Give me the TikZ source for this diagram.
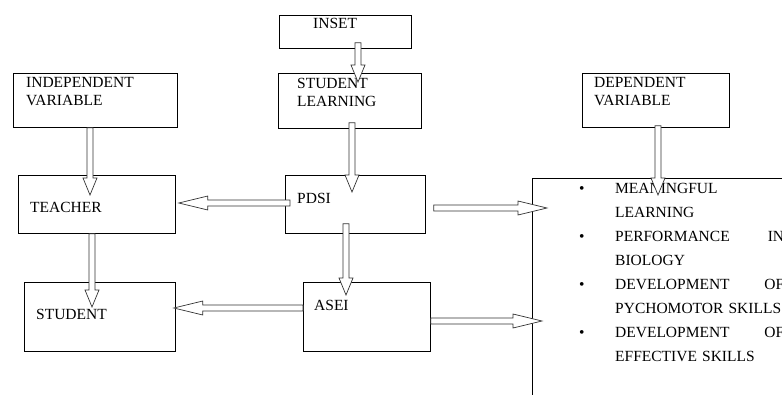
\documentclass[tikz,border=0pt]{standalone}
\usepackage{fontspec}
\setmainfont{Liberation Serif}
\usetikzlibrary{calc}
\newcommand{\listbullet}{\makebox[36pt][l]{\textbullet}}
\newcommand{\listindent}{\hspace*{36pt}}

\tikzset{
  headlen/.store in=\headlen, headlen=17pt,
  box/.style={draw, line width=0.8pt, anchor=north west, inner sep=0pt},
  lbl/.style={anchor=north west, inner sep=0pt, align=left, font=\fontsize{15.5}{18}\selectfont},
  hollow/.style={draw=black!80, fill=white, line width=0.7pt, to path={
      ($(\tikztostart)!3pt!90:(\tikztotarget)$)
      -- ($(\tikztotarget)!\headlen!(\tikztostart)!3pt!-90:(\tikztostart)$)
      -- ($(\tikztotarget)!\headlen!(\tikztostart)!7pt!-90:(\tikztostart)$)
      -- (\tikztotarget)
      -- ($(\tikztotarget)!\headlen!(\tikztostart)!7pt!90:(\tikztostart)$)
      -- ($(\tikztotarget)!\headlen!(\tikztostart)!3pt!90:(\tikztostart)$)
      -- ($(\tikztostart)!3pt!-90:(\tikztotarget)$) -- cycle}}
}

\begin{document}
\begin{tikzpicture}[x=1pt, y=-1pt]
  \useasboundingbox (0,0) rectangle (782,394);
  \clip (0,0) rectangle (782,394);

  % boxes
  \node[box, minimum width=132pt, minimum height=33pt] (inset) at (279,15) {};
  \node[box, minimum width=143pt, minimum height=55pt] (sl) at (278,73) {};
  \node[box, minimum width=164pt, minimum height=54pt] (iv) at (13,73) {};
  \node[box, minimum width=147pt, minimum height=54pt] (dv) at (582,73) {};
  \node[box, minimum width=157pt, minimum height=58pt] (teacher) at (18,175) {};
  \node[box, minimum width=140pt, minimum height=58pt] (pdsi) at (285,175) {};
  \node[box, minimum width=151pt, minimum height=69pt] (student) at (24,282) {};
  \node[box, minimum width=127pt, minimum height=69pt] (asei) at (303,282) {};
  \node[box, minimum width=300pt, minimum height=260pt] (outcome) at (532,178) {};

  % texts
  \node[lbl] (inset-t) at ([xshift=34pt,yshift=-3pt]inset.north west) {INSET};
  \node[lbl] (sl-t) at ([xshift=19pt,yshift=-5pt]sl.north west) {STUDENT\\LEARNING};
  \node[lbl] (iv-t) at ([xshift=13pt,yshift=-4pt]iv.north west) {INDEPENDENT\\VARIABLE};
  \node[lbl] (dv-t) at ([xshift=12pt,yshift=-4pt]dv.north west) {DEPENDENT\\VARIABLE};
  \node[lbl] (teacher-t) at ([xshift=12pt,yshift=-27pt]teacher.north west) {TEACHER};
  \node[lbl] (pdsi-t) at ([xshift=12pt,yshift=-18pt]pdsi.north west) {PDSI};
  \node[lbl] (student-t) at ([xshift=12pt,yshift=-27pt]student.north west) {STUDENT};
  \node[lbl] (asei-t) at ([xshift=11pt,yshift=-18pt]asei.north west) {ASEI};
  \node[lbl, text width=205pt, font=\fontsize{15.5}{24}\selectfont] (outcome-t)
    at ([xshift=47pt,yshift=-5pt]outcome.north west)
    {\listbullet MEANINGFUL\\
     \listindent LEARNING\\
     \listbullet PERFORMANCE\hfill IN\\
     \listindent BIOLOGY\\
     \listbullet DEVELOPMENT\hfill OF\\
     \listindent PYCHOMOTOR SKILLS\\
     \listbullet DEVELOPMENT\hfill OF\\
     \listindent EFFECTIVE SKILLS};

  % vertical arrows
  \draw[hollow] ([xshift=79pt,yshift=6pt]inset.south west) to ([xshift=80pt,yshift=-9pt]sl.north west);
  \draw[hollow] ([xshift=74pt,yshift=6pt]sl.south west) to ([xshift=67pt,yshift=-17pt]pdsi.north west);
  \draw[hollow] ([xshift=77pt]iv.south west) to ([xshift=72pt,yshift=-20pt]teacher.north west);
  \draw[hollow] ([xshift=76pt,yshift=2pt]dv.south west) to ([xshift=126pt,yshift=-17pt]outcome.north west);
  \draw[hollow] ([xshift=74pt]teacher.south west) to ([xshift=68pt,yshift=-25pt]student.north west);
  \draw[hollow] ([xshift=61pt,yshift=10pt]pdsi.south west) to ([xshift=43pt,yshift=-13pt]asei.north west);

  % horizontal arrows
  \draw[hollow, headlen=29pt] ([xshift=5pt,yshift=-28pt]pdsi.north west) to ([xshift=3pt,yshift=-28pt]teacher.north east);
  \draw[hollow, headlen=29pt] ([yshift=-26pt]asei.north west) to ([xshift=-2pt,yshift=-26pt]student.north east);
  \draw[hollow, headlen=29pt] ([xshift=8pt,yshift=-33pt]pdsi.north east) to ([xshift=15pt,yshift=-30pt]outcome.north west);
  \draw[hollow, headlen=29pt] ([yshift=-39pt]asei.north east) to ([xshift=10pt,yshift=-143pt]outcome.north west);
\end{tikzpicture}
\end{document}
